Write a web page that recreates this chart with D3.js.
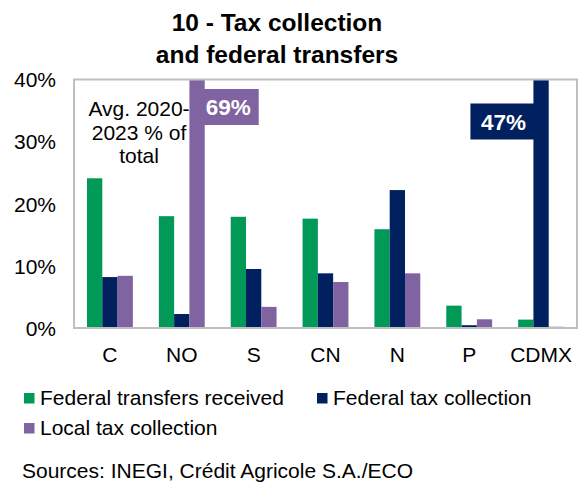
<!DOCTYPE html>
<html><head><meta charset="utf-8">
<script src="https://cdn.jsdelivr.net/npm/d3@7"></script>
<style>body{margin:0;background:#fff}svg{display:block;font-family:"Liberation Sans",Arial,sans-serif}</style>
</head><body><svg id="c" width="582" height="488"></svg>
<script>
const categories = ["C","NO","S","CN","N","P","CDMX"];
const seriesNames = ["Federal transfers received","Federal tax collection","Local tax collection"];
const federalTransfers = [24.1, 18.0, 17.9, 17.6, 15.9, 3.6, 1.35];
const federalTax = [8.2, 2.25, 9.5, 8.8, 22.2, 0.45, 47];
const localTax = [8.4, 69, 3.4, 7.4, 8.8, 1.4, 0.2];
const yTicks = [0, 10, 20, 30, 40];
const colors = ["#009958", "#002060", "#8064A2"];
const calloutLabels = [{cat:"NO", series:2, text:"69%"}, {cat:"CDMX", series:1, text:"47%"}];

const series = [federalTransfers, federalTax, localTax];
const svg = d3.select("#c");
const L = 74, R = 577, T = 79.5, B = 328;

const x = d3.scaleBand().domain(categories).range([L, R]).paddingInner(0).paddingOuter(0);
const x1 = d3.scaleBand().domain([0,1,2]).range([0, x.bandwidth()]).paddingOuter(0.85).paddingInner(0);
const y = d3.scaleLinear().domain([0, 40]).range([B, T]);

// title
svg.append("text").attr("x", 277).attr("y", 31).attr("text-anchor","middle")
  .attr("font-size", 24.5).attr("font-weight","bold").text("10 - Tax collection");
svg.append("text").attr("x", 277).attr("y", 63).attr("text-anchor","middle")
  .attr("font-size", 24.5).attr("font-weight","bold").text("and federal transfers");

svg.append("clipPath").attr("id","clip").append("rect")
  .attr("x", L).attr("y", T).attr("width", R-L).attr("height", B-T);

const g = svg.append("g").attr("clip-path","url(#clip)");
series.forEach((vals, si) => {
  g.selectAll(null).data(vals).join("rect")
    .attr("x", (d,i) => x(categories[i]) + x1(si))
    .attr("width", x1.bandwidth())
    .attr("y", d => y(Math.min(d, 41)))
    .attr("height", d => y(0) - y(Math.min(d, 41)))
    .attr("fill", colors[si]);
});

// frame
svg.append("rect").attr("x", L).attr("y", T).attr("width", R-L).attr("height", B-T)
  .attr("fill","none").attr("stroke","#bfbfbf").attr("stroke-width", 2);

// y axis
const ya = svg.append("g").attr("transform", `translate(${L-18},0)`)
  .call(d3.axisLeft(y).tickValues(yTicks).tickFormat(d => d + "%").tickSize(0));
ya.select(".domain").remove();
ya.selectAll("text").attr("font-size", 21).attr("fill","#000").attr("font-family","Liberation Sans, Arial, sans-serif").attr("dy","0.35em").attr("x",0);

// x axis
const xa = svg.append("g").attr("transform", `translate(0,${B})`)
  .call(d3.axisBottom(x).tickSize(0));
xa.select(".domain").remove();
xa.selectAll("text").attr("font-size", 21).attr("fill","#000").attr("font-family","Liberation Sans, Arial, sans-serif").attr("y", 34).attr("dy", 0);

// annotation
const ann = svg.append("text").attr("text-anchor","middle").attr("font-size", 21);
["Avg. 2020-","2023 % of","total"].forEach((t,i) => ann.append("tspan").attr("x", 139).attr("y", 116 + i*23.5).text(t));

// callouts
calloutLabels.forEach(c => {
  const bx = x(c.cat) + x1(c.series);
  const w = c.text === "69%" ? 61 : 64, h = 36;
  const yTop = c.text === "69%" ? 89 : 103.5;
  const left = c.text === "69%" ? bx + x1.bandwidth() - 7 : bx - w + 1;
  svg.append("rect").attr("x", left).attr("y", yTop).attr("width", w).attr("height", h).attr("fill", colors[c.series]);
  svg.append("text").attr("x", left + w/2 + (c.text === "69%" ? 0 : 1)).attr("y", yTop + h/2 + 8)
    .attr("text-anchor","middle").attr("font-size", 22.5).attr("font-weight","bold").attr("fill","#fff").text(c.text);
});

// legend
const legendPos = [{x:24, y:398}, {x:317, y:398}, {x:24, y:428}];
seriesNames.forEach((n, i) => {
  const p = legendPos[i];
  svg.append("rect").attr("x", p.x).attr("y", p.y - 5).attr("width", 10.5).attr("height", 10.5).attr("fill", colors[i]);
  svg.append("text").attr("x", p.x + 16).attr("y", p.y + 7).attr("font-size", 21).text(n);
});

svg.append("text").attr("x", 22).attr("y", 478).attr("font-size", 21).text("Sources: INEGI, Crédit Agricole S.A./ECO");
</script></body></html>
